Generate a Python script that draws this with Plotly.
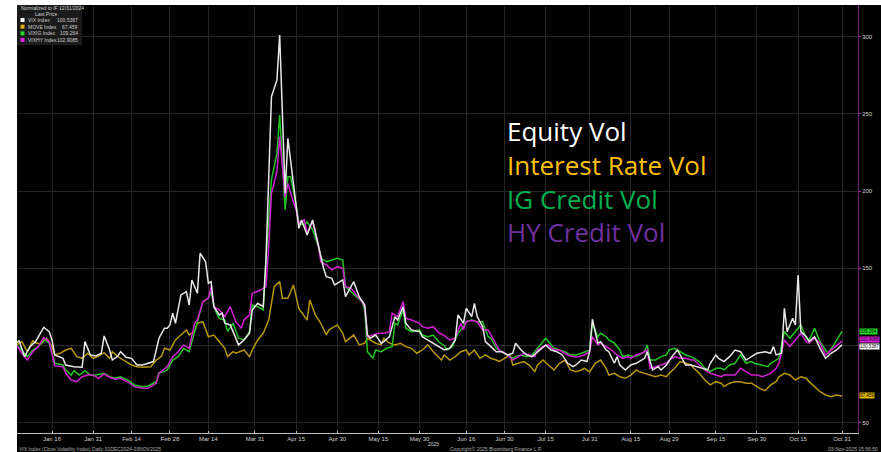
import plotly.graph_objects as go

# ---------------- data (normalized to 100 on 12/31/2024) ----------------
vix_dates = ["2024-12-31","2025-01-03","2025-01-04","2025-01-06","2025-01-08","2025-01-10","2025-01-13","2025-01-15","2025-01-16","2025-01-17","2025-01-20","2025-01-21","2025-01-24","2025-01-27","2025-01-28","2025-01-30","2025-02-01","2025-02-03","2025-02-04","2025-02-06","2025-02-07","2025-02-09","2025-02-10","2025-02-12","2025-02-14","2025-02-16","2025-02-18","2025-02-20","2025-02-22","2025-02-24","2025-02-26","2025-02-27","2025-02-28","2025-03-01","2025-03-02","2025-03-04","2025-03-06","2025-03-07","2025-03-08","2025-03-10","2025-03-11","2025-03-13","2025-03-14","2025-03-15","2025-03-16","2025-03-18","2025-03-19","2025-03-20","2025-03-22","2025-03-23","2025-03-25","2025-03-27","2025-03-29","2025-03-30","2025-04-01","2025-04-03","2025-04-04","2025-04-06","2025-04-08","2025-04-09","2025-04-10","2025-04-11","2025-04-12","2025-04-13","2025-04-15","2025-04-16","2025-04-17","2025-04-19","2025-04-21","2025-04-23","2025-04-25","2025-04-26","2025-04-28","2025-04-29","2025-05-02","2025-05-03","2025-05-05","2025-05-06","2025-05-08","2025-05-10","2025-05-11","2025-05-12","2025-05-14","2025-05-16","2025-05-17","2025-05-19","2025-05-21","2025-05-22","2025-05-24","2025-05-25","2025-05-27","2025-05-30","2025-05-31","2025-06-02","2025-06-04","2025-06-06","2025-06-08","2025-06-10","2025-06-12","2025-06-13","2025-06-15","2025-06-16","2025-06-18","2025-06-19","2025-06-20","2025-06-22","2025-06-23","2025-06-25","2025-06-27","2025-06-29","2025-07-01","2025-07-03","2025-07-04","2025-07-06","2025-07-08","2025-07-10","2025-07-12","2025-07-14","2025-07-15","2025-07-17","2025-07-19","2025-07-21","2025-07-23","2025-07-25","2025-07-26","2025-07-28","2025-07-30","2025-07-31","2025-08-01","2025-08-03","2025-08-04","2025-08-06","2025-08-07","2025-08-09","2025-08-10","2025-08-11","2025-08-13","2025-08-15","2025-08-17","2025-08-18","2025-08-20","2025-08-21","2025-08-23","2025-08-25","2025-08-26","2025-08-28","2025-08-30","2025-09-01","2025-09-03","2025-09-04","2025-09-06","2025-09-08","2025-09-10","2025-09-12","2025-09-13","2025-09-15","2025-09-16","2025-09-18","2025-09-20","2025-09-22","2025-09-24","2025-09-26","2025-09-29","2025-09-30","2025-10-03","2025-10-05","2025-10-06","2025-10-07","2025-10-09","2025-10-10","2025-10-11","2025-10-13","2025-10-14","2025-10-15","2025-10-16","2025-10-18","2025-10-19","2025-10-21","2025-10-23","2025-10-25","2025-10-27","2025-10-29","2025-10-31"]
vix_values = [100,101.6,103.2,92.9,99.4,102.6,111.9,109.1,103.7,94.0,91.8,87.5,86.4,86.0,102.6,94.0,93.3,95.1,106.3,97.2,90.7,93.3,96.1,92.5,91.8,87.5,87.5,88.6,89.7,104.8,111.3,111.3,113.4,121.0,114.5,132.8,134.9,126.3,142.5,133.9,159.8,154.3,140.4,141.4,125.2,119.9,121.0,114.5,113.4,109.1,100.5,103.7,108.0,123.1,127.4,125.2,155.4,261.0,271.9,301.0,246.0,198.6,234.2,220.1,189.9,175.9,181.3,171.6,181.3,165.1,150.1,144.6,143.6,139.3,142.5,131.7,138.2,141.4,131.7,126.3,106.9,104.8,106.9,101.6,102.6,105.8,118.8,116.6,125.2,114.5,110.2,109.1,105.8,103.7,101.6,99.5,97.2,98.3,103.7,119.9,114.5,124.2,118.8,127.4,118.8,112.3,102.6,99.4,96.1,96.1,94.0,95.1,101.6,97.2,94.0,92.9,96.1,99.4,100.5,97.2,96.1,94.0,88.6,86.4,87.5,90.7,89.7,96.1,117.1,101.6,102.6,97.2,96.1,88.6,92.9,87.5,84.3,87.5,88.6,89.7,91.8,96.1,84.3,86.4,84.3,87.5,92.9,97.2,90.7,87.5,87.5,86.4,85.4,84.3,88.6,94.0,91.8,89.7,92.9,97.2,96.1,90.7,94.0,95.1,96.1,95.1,99.4,94.0,95.1,124.2,109.1,117.7,113.4,145.7,109.1,105.8,102.6,105.8,98.3,91.8,95.1,97.2,100.5]

move_dates = ["2024-12-31","2025-01-03","2025-01-05","2025-01-07","2025-01-09","2025-01-10","2025-01-12","2025-01-14","2025-01-16","2025-01-17","2025-01-19","2025-01-21","2025-01-23","2025-01-25","2025-01-27","2025-01-29","2025-01-31","2025-02-02","2025-02-04","2025-02-06","2025-02-07","2025-02-09","2025-02-12","2025-02-14","2025-02-16","2025-02-18","2025-02-21","2025-02-23","2025-02-25","2025-02-26","2025-02-28","2025-03-02","2025-03-04","2025-03-06","2025-03-07","2025-03-09","2025-03-10","2025-03-12","2025-03-14","2025-03-16","2025-03-18","2025-03-20","2025-03-21","2025-03-23","2025-03-24","2025-03-27","2025-03-29","2025-03-30","2025-04-01","2025-04-03","2025-04-05","2025-04-07","2025-04-09","2025-04-10","2025-04-12","2025-04-14","2025-04-15","2025-04-16","2025-04-19","2025-04-20","2025-04-22","2025-04-24","2025-04-26","2025-04-27","2025-04-30","2025-05-02","2025-05-03","2025-05-06","2025-05-08","2025-05-10","2025-05-11","2025-05-14","2025-05-16","2025-05-17","2025-05-19","2025-05-21","2025-05-23","2025-05-25","2025-05-27","2025-05-29","2025-05-31","2025-06-02","2025-06-04","2025-06-07","2025-06-08","2025-06-10","2025-06-12","2025-06-14","2025-06-16","2025-06-17","2025-06-19","2025-06-21","2025-06-23","2025-06-25","2025-06-27","2025-06-28","2025-06-30","2025-07-02","2025-07-03","2025-07-05","2025-07-07","2025-07-09","2025-07-11","2025-07-12","2025-07-14","2025-07-16","2025-07-18","2025-07-20","2025-07-22","2025-07-24","2025-07-26","2025-07-28","2025-07-29","2025-07-31","2025-08-02","2025-08-04","2025-08-06","2025-08-07","2025-08-09","2025-08-11","2025-08-13","2025-08-15","2025-08-17","2025-08-18","2025-08-20","2025-08-22","2025-08-24","2025-08-26","2025-08-28","2025-08-29","2025-08-31","2025-09-02","2025-09-04","2025-09-06","2025-09-07","2025-09-09","2025-09-11","2025-09-13","2025-09-15","2025-09-17","2025-09-18","2025-09-20","2025-09-22","2025-09-24","2025-09-26","2025-09-28","2025-09-29","2025-10-01","2025-10-03","2025-10-05","2025-10-07","2025-10-08","2025-10-10","2025-10-12","2025-10-14","2025-10-16","2025-10-18","2025-10-19","2025-10-21","2025-10-23","2025-10-25","2025-10-27","2025-10-29","2025-10-31"]
move_values = [100,100.5,102.6,96.1,103.2,101.9,101.1,104.8,99.4,94.0,95.1,97.2,98.3,92.9,91.8,95.1,91.8,93.3,95.5,91.8,96.1,92.9,89.7,87.5,86.4,86.0,86.4,90.7,93.3,98.3,97.2,103.7,106.9,110.2,106.9,109.1,114.5,115.5,105.8,106.9,102.6,98.3,92.9,96.1,95.1,97.2,92.9,97.2,103.7,108.0,116.6,138.2,141.4,130.7,130.7,139.3,131.7,124.0,116.6,129.6,119.9,114.5,106.9,110.2,113.4,108.0,102.6,106.9,100.5,101.6,104.8,101.6,100.5,104.8,101.6,100.5,101.6,99.4,98.3,95.1,97.2,100.5,96.1,90.7,94.0,90.7,92.9,96.1,97.2,94.0,97.2,91.8,94.0,91.8,90.7,89.7,91.8,94.0,87.5,88.6,89.7,87.5,83.2,87.5,90.7,87.5,84.3,88.6,90.7,84.3,83.2,84.3,85.4,83.0,88.6,90.7,85.4,81.0,82.1,79.9,78.9,81.0,84.3,83.2,82.1,81.0,79.9,81.0,79.9,82.1,85.4,89.7,88.6,87.5,85.4,82.1,77.8,74.6,76.7,75.7,73.5,75.7,76.7,76.7,75.7,75.7,74.6,72.4,70.9,74.6,76.7,79.9,82.1,81.0,77.8,79.9,78.9,76.7,73.5,70.2,68.1,67.0,68.1,67.5]

ig_dates = ["2024-12-31","2025-01-03","2025-01-05","2025-01-07","2025-01-09","2025-01-11","2025-01-13","2025-01-15","2025-01-17","2025-01-20","2025-01-21","2025-01-23","2025-01-24","2025-01-26","2025-01-28","2025-01-30","2025-02-01","2025-02-04","2025-02-06","2025-02-08","2025-02-10","2025-02-13","2025-02-15","2025-02-18","2025-02-20","2025-02-23","2025-02-24","2025-02-26","2025-02-27","2025-03-01","2025-03-03","2025-03-05","2025-03-07","2025-03-09","2025-03-10","2025-03-12","2025-03-14","2025-03-15","2025-03-16","2025-03-17","2025-03-18","2025-03-20","2025-03-21","2025-03-23","2025-03-25","2025-03-27","2025-03-29","2025-03-30","2025-04-01","2025-04-03","2025-04-04","2025-04-06","2025-04-08","2025-04-09","2025-04-11","2025-04-12","2025-04-13","2025-04-15","2025-04-16","2025-04-18","2025-04-19","2025-04-21","2025-04-23","2025-04-24","2025-04-26","2025-04-28","2025-04-30","2025-05-02","2025-05-03","2025-05-05","2025-05-07","2025-05-09","2025-05-10","2025-05-11","2025-05-13","2025-05-14","2025-05-16","2025-05-18","2025-05-20","2025-05-21","2025-05-22","2025-05-24","2025-05-25","2025-05-27","2025-05-30","2025-05-31","2025-06-02","2025-06-04","2025-06-06","2025-06-08","2025-06-09","2025-06-11","2025-06-13","2025-06-15","2025-06-16","2025-06-18","2025-06-20","2025-06-22","2025-06-24","2025-06-25","2025-06-27","2025-06-29","2025-07-01","2025-07-03","2025-07-04","2025-07-06","2025-07-08","2025-07-10","2025-07-12","2025-07-14","2025-07-15","2025-07-17","2025-07-18","2025-07-20","2025-07-22","2025-07-24","2025-07-26","2025-07-28","2025-07-31","2025-08-01","2025-08-03","2025-08-04","2025-08-06","2025-08-07","2025-08-09","2025-08-11","2025-08-12","2025-08-14","2025-08-16","2025-08-18","2025-08-20","2025-08-21","2025-08-22","2025-08-24","2025-08-26","2025-08-28","2025-08-29","2025-08-31","2025-09-02","2025-09-04","2025-09-06","2025-09-07","2025-09-09","2025-09-11","2025-09-13","2025-09-15","2025-09-17","2025-09-18","2025-09-20","2025-09-22","2025-09-24","2025-09-26","2025-09-28","2025-09-29","2025-10-02","2025-10-04","2025-10-05","2025-10-08","2025-10-10","2025-10-12","2025-10-13","2025-10-16","2025-10-18","2025-10-19","2025-10-21","2025-10-23","2025-10-25","2025-10-26","2025-10-28","2025-10-30","2025-10-31"]
ig_values = [100,100.5,97.2,92.9,97.2,99.4,104.1,101.6,88.6,87.5,84.3,81.0,83.8,81.0,83.8,81.0,81.0,82.1,79.9,78.9,79.9,77.4,74.6,73.5,73.9,76.7,82.5,83.2,84.3,90.7,92.9,98.3,96.1,108.0,115.5,128.5,130.7,135.0,126.3,121.0,117.7,116.6,109.1,114.5,104.8,103.7,109.1,126.3,125.2,123.1,155.4,207.2,224.5,249.2,187.9,209.3,209.3,191.0,179.2,178.0,180.0,175.0,165.0,156.5,154.3,155.4,156.5,155.4,138.2,134.9,131.7,128.5,123.1,96.1,91.8,97.2,96.1,98.3,99.4,114.5,113.4,123.1,111.3,109.1,110.2,106.9,105.8,106.9,102.5,100.0,97.2,99.4,108.0,112.3,115.5,116.6,115.5,115.5,105.8,104.8,98.3,96.1,94.0,91.8,92.9,94.0,92.9,94.0,98.3,102.6,104.8,100.5,98.3,97.2,96.1,94.0,94.0,95.1,97.0,114.5,105.8,108.0,105.8,103.7,101.6,97.2,92.9,94.0,92.9,94.0,96.1,100.5,90.7,90.7,92.9,94.0,97.2,98.3,96.1,94.0,92.9,91.8,89.7,85.4,83.2,85.4,85.4,84.3,87.5,88.6,94.0,88.6,89.7,88.6,87.5,86.4,88.6,91.8,109.1,104.8,106.9,113.4,104.8,103.7,111.3,102.6,97.2,95.1,100.5,106.9,109.3]

hy_dates = ["2024-12-31","2025-01-03","2025-01-05","2025-01-07","2025-01-09","2025-01-11","2025-01-13","2025-01-15","2025-01-17","2025-01-20","2025-01-21","2025-01-23","2025-01-25","2025-01-27","2025-01-29","2025-01-31","2025-02-02","2025-02-04","2025-02-06","2025-02-08","2025-02-10","2025-02-13","2025-02-15","2025-02-18","2025-02-20","2025-02-23","2025-02-24","2025-02-26","2025-02-27","2025-03-01","2025-03-03","2025-03-05","2025-03-07","2025-03-09","2025-03-10","2025-03-12","2025-03-14","2025-03-15","2025-03-16","2025-03-18","2025-03-20","2025-03-22","2025-03-24","2025-03-26","2025-03-27","2025-03-29","2025-03-30","2025-04-02","2025-04-04","2025-04-05","2025-04-06","2025-04-08","2025-04-09","2025-04-11","2025-04-12","2025-04-13","2025-04-15","2025-04-16","2025-04-18","2025-04-19","2025-04-21","2025-04-23","2025-04-24","2025-04-26","2025-04-28","2025-04-30","2025-05-02","2025-05-03","2025-05-05","2025-05-07","2025-05-09","2025-05-10","2025-05-11","2025-05-13","2025-05-15","2025-05-17","2025-05-19","2025-05-20","2025-05-22","2025-05-24","2025-05-25","2025-05-27","2025-05-30","2025-05-31","2025-06-02","2025-06-04","2025-06-06","2025-06-08","2025-06-10","2025-06-12","2025-06-14","2025-06-15","2025-06-16","2025-06-18","2025-06-20","2025-06-22","2025-06-24","2025-06-26","2025-06-28","2025-06-30","2025-07-01","2025-07-03","2025-07-05","2025-07-07","2025-07-09","2025-07-11","2025-07-12","2025-07-14","2025-07-16","2025-07-18","2025-07-20","2025-07-21","2025-07-23","2025-07-25","2025-07-27","2025-07-29","2025-07-31","2025-08-01","2025-08-03","2025-08-04","2025-08-06","2025-08-08","2025-08-10","2025-08-12","2025-08-14","2025-08-15","2025-08-17","2025-08-19","2025-08-21","2025-08-22","2025-08-24","2025-08-26","2025-08-28","2025-08-29","2025-08-31","2025-09-02","2025-09-04","2025-09-06","2025-09-07","2025-09-09","2025-09-11","2025-09-13","2025-09-15","2025-09-17","2025-09-18","2025-09-20","2025-09-22","2025-09-24","2025-09-26","2025-09-28","2025-09-30","2025-10-02","2025-10-05","2025-10-07","2025-10-08","2025-10-10","2025-10-12","2025-10-13","2025-10-16","2025-10-18","2025-10-19","2025-10-21","2025-10-23","2025-10-25","2025-10-28","2025-10-30","2025-10-31"]
hy_values = [100,100.5,95.1,90.7,96.1,99.4,105.2,102.6,86.9,86.4,82.1,77.8,76.7,79.9,81.0,81.0,78.9,81.7,79.6,78.3,78.9,76.1,73.5,72.4,72.4,75.7,82.1,84.7,86.4,92.9,96.1,100.5,98.3,114.5,116.6,128.5,130.7,138.2,125.2,123.1,118.8,125.2,115.5,111.3,116.6,119.9,133.9,136.0,138.2,164.0,198.6,212.5,235.2,196.4,205.0,198.6,187.8,179.2,181.3,172.7,180.2,166.2,154.3,152.2,149.0,151.1,150.1,138.2,137.1,132.8,128.5,125.2,105.8,106.9,108.0,108.0,109.1,121.0,118.8,128.5,117.7,116.6,114.5,112.3,111.3,112.3,108.5,106.5,103.7,104.8,114.5,110.2,115.5,116.2,115.5,110.2,110.2,103.7,97.2,95.1,94.0,90.7,92.9,95.1,94.0,92.9,97.2,99.4,100.5,97.2,97.2,96.1,94.0,92.9,92.9,94.0,96.1,105.8,100.5,101.6,99.4,97.2,94.0,91.8,92.9,91.8,94.0,95.1,97.2,85.4,86.4,87.5,88.6,90.7,92.9,91.8,91.8,90.7,90.7,87.5,84.3,82.1,81.0,79.9,81.0,81.0,81.0,85.4,83.2,81.0,81.0,79.9,82.1,85.4,88.6,103.7,99.4,101.6,108.0,102.6,101.6,104.8,101.6,94.0,98.3,101.6,102.9]

x_tick_dates = ["2025-01-16","2025-01-31","2025-02-14","2025-02-28","2025-03-14","2025-03-31","2025-04-15","2025-04-30","2025-05-15","2025-05-30","2025-06-16","2025-06-30","2025-07-15","2025-07-31","2025-08-15","2025-08-29","2025-09-15","2025-09-30","2025-10-15","2025-10-31"]
x_tick_labels = ["Jan 16","Jan 31","Feb 14","Feb 28","Mar 14","Mar 31","Apr 15","Apr 30","May 15","May 30","Jun 16","Jun 30","Jul 15","Jul 31","Aug 15","Aug 29","Sep 15","Sep 30","Oct 15","Oct 31"]
y_tick_values = [50, 100, 150, 200, 250, 300]
y_tick_labels = ["50", "", "150", "200", "250", "300"]

legend_names = ["VIX Index", "MOVE Index", "VIXIG Index", "VIXHY Index"]
last_prices = ["100.5387", "67.459", "109.264", "102.9085"]
last_values = [100.5387, 67.459, 109.264, 102.9085]
label_texts = ["Equity Vol", "Interest Rate Vol", "IG Credit Vol", "HY Credit Vol"]

# ---------------- styling ----------------
W, H = 881, 452
ML, MR, MT, MB = 17, 23, 5, 19
PW, PH = W - ML - MR, H - MT - MB
Y_RANGE = [43.5, 320.4]


def px(x):
    return (x - ML) / PW


def py(y):
    return 1 - (y - MT) / PH


line_colors = ["#e8e8e8", "#b8960c", "#22c522", "#d41ed4"]
label_colors = ["#ffffff", "#ffc000", "#00b050", "#7030a0"]
box_colors = ["#ffffff", "#e0b800", "#22dd22", "#e020e0"]
tag_shift = [-1.5, 0, 0, 1.5]

series = [
    (move_dates, move_values, line_colors[1]),
    (ig_dates, ig_values, line_colors[2]),
    (hy_dates, hy_values, line_colors[3]),
    (vix_dates, vix_values, line_colors[0]),
]

fig = go.Figure()
for d, v, c in series:
    fig.add_trace(go.Scatter(x=d, y=v, mode="lines", line=dict(color=c, width=1.5),
                             showlegend=False, hoverinfo="skip"))

fig.update_layout(
    width=W, height=H,
    margin=dict(l=ML, r=MR, t=MT, b=MB),
    paper_bgcolor="black", plot_bgcolor="black",
    showlegend=False,
    font=dict(family="Arial", color="#d0d0d0"),
)
fig.update_xaxes(
    type="date", range=["2025-01-03 05:45", "2025-11-05 20:00"],
    tickvals=x_tick_dates, ticktext=x_tick_labels,
    showgrid=True, gridcolor="#262626", gridwidth=1,
    showline=True, linecolor="#bdbdbd", linewidth=1,
    ticks="inside", ticklen=2, tickcolor="#bdbdbd",
    tickfont=dict(size=6, color="#d0d0d0"), zeroline=False,
)
fig.update_yaxes(
    side="right", range=Y_RANGE,
    tickvals=y_tick_values, ticktext=y_tick_labels,
    showgrid=True, gridcolor="#262626", gridwidth=1,
    showline=True, linecolor="#6e1f6e", linewidth=1,
    ticks="outside", ticklen=2, tickcolor="#c020c0",
    tickfont=dict(size=6, color="#d0d0d0"), zeroline=False,
)

shapes = []
# brighter reference line at 100
shapes.append(dict(type="line", xref="paper", yref="y", x0=0, x1=1, y0=100, y1=100,
                   line=dict(color="#3c3c3c", width=1), layer="below"))
# white margins (left / top) of the screenshot
shapes.append(dict(type="rect", xref="paper", yref="paper", x0=-ML / PW, x1=0,
                   y0=-MB / PH, y1=1 + MT / PH, fillcolor="white", line=dict(width=0), layer="above"))
shapes.append(dict(type="rect", xref="paper", yref="paper", x0=-ML / PW, x1=1 + MR / PW,
                   y0=1, y1=1 + MT / PH, fillcolor="white", line=dict(width=0), layer="above"))
# legend box
shapes.append(dict(type="rect", xref="paper", yref="paper", x0=px(17), x1=px(82),
                   y0=py(45), y1=py(5), fillcolor="#1b1b1b", line=dict(width=0), layer="above"))
legend_rows_y = [20, 26.7, 33.3, 40]
sq_colors = ["#ffffff", "#e0b000", "#22dd22", "#e020e0"]
for yy, c in zip(legend_rows_y, sq_colors):
    shapes.append(dict(type="rect", xref="paper", yref="paper", x0=px(20.5), x1=px(24.5),
                       y0=py(yy + 2), y1=py(yy - 2), fillcolor=c, line=dict(width=0), layer="above"))
fig.update_layout(shapes=shapes)

ann = []
# big coloured labels, one block
block = "<br>".join(
    "<span style='color:%s'>%s</span>" % (c, t) for t, c in zip(label_texts, label_colors)
)
ann.append(dict(text=block, xref="paper", yref="paper", x=px(505), y=py(110.5),
                xanchor="left", yanchor="top", align="left", showarrow=False,
                font=dict(family="Open Sans", size=26, color="white")))
# legend box text
ann.append(dict(text="Normalized to IF 12/31/2024", xref="paper", yref="paper", x=px(19), y=py(7.5),
                xanchor="left", yanchor="middle", showarrow=False, font=dict(size=5, color="#cfcfcf")))
ann.append(dict(text="Last Price", xref="paper", yref="paper", x=px(46), y=py(14.3),
                xanchor="center", yanchor="middle", showarrow=False, font=dict(size=5, color="#cfcfcf")))
for yy, n, lp in zip(legend_rows_y, legend_names, last_prices):
    ann.append(dict(text=n, xref="paper", yref="paper", x=px(26), y=py(yy),
                    xanchor="left", yanchor="middle", showarrow=False, font=dict(size=5, color="#cfcfcf")))
    ann.append(dict(text=lp, xref="paper", yref="paper", x=px(80), y=py(yy),
                    xanchor="right", yanchor="middle", showarrow=False, font=dict(size=5, color="#cfcfcf")))
# last value tags on the right axis
for lv, lp, bc, sh in zip(last_values, last_prices, box_colors, tag_shift):
    ann.append(dict(text=lp, xref="paper", yref="y", x=px(859), y=lv, yshift=sh,
                    xanchor="left", yanchor="middle", showarrow=False, bgcolor=bc, borderpad=0,
                    font=dict(size=4.5, color="black")))
# year label & footer
ann.append(dict(text="2025", xref="paper", yref="paper", x=px(433), y=py(443.5),
                xanchor="center", yanchor="middle", showarrow=False, font=dict(size=5, color="#cfcfcf")))
ann.append(dict(text="VIX Index (Cboe Volatility Index) Daily 31DEC2024-03NOV2025", xref="paper", yref="paper",
                x=px(17), y=py(449), xanchor="left", yanchor="middle", showarrow=False,
                font=dict(size=5, color="#b0b0b0")))
ann.append(dict(text="Copyright\u00a9 2025 Bloomberg Finance L.P.", xref="paper", yref="paper",
                x=px(448), y=py(449), xanchor="left", yanchor="middle", showarrow=False,
                font=dict(size=5, color="#b0b0b0")))
ann.append(dict(text="03-Nov-2025 15:56:50", xref="paper", yref="paper",
                x=px(880), y=py(449), xanchor="right", yanchor="middle", showarrow=False,
                font=dict(size=5, color="#b0b0b0")))
fig.update_layout(annotations=ann)

fig.write_html("out.html", config={"displayModeBar": False},
               post_script="document.body.style.margin='0';")
